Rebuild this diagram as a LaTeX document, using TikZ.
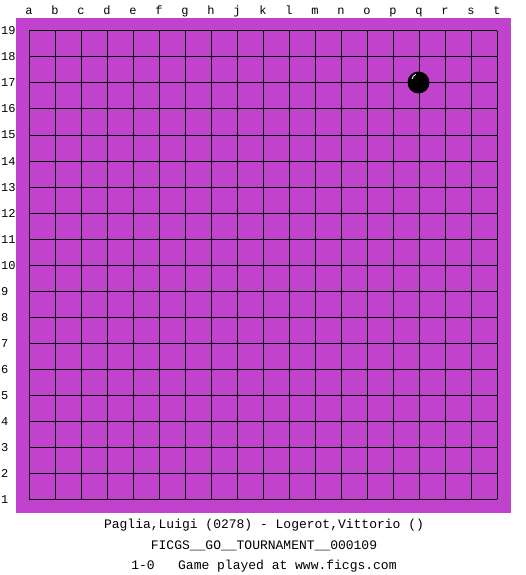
\documentclass[tikz,border=0pt]{standalone}
\usepackage{fontspec}
\setmonofont{Liberation Mono}
\definecolor{board}{RGB}{192,66,205}
\begin{document}
\begin{tikzpicture}[x=1pt,y=-1pt,
  lbl/.style={inner sep=0pt,font=\ttfamily\fontsize{12}{12}\selectfont},
  caption/.style={inner sep=0pt,font=\ttfamily\fontsize{13}{13}\selectfont},
  gridline/.style={line width=1pt,black}]
\useasboundingbox (0,0) rectangle (525,575);
\fill[white] (0,0) rectangle (525,575);
\fill[board] (16,18) rectangle (511,512.5);
\foreach \i in {0,...,18} {
  \draw[gridline] (29+26*\i,31) -- (29+26*\i,499);
  \draw[gridline] (29,31+26*\i) -- (497,31+26*\i);
}
\foreach \l [count=\i from 0] in {a,b,c,d,e,f,g,h,j,k,l,m,n,o,p,q,r,s,t}
  \node[lbl,anchor=base] (col\l) at (29+26*\i,15) {\l};
\foreach \i in {1,...,19}
  \node[lbl,anchor=base west] (row\i) at (1,35+26*19-26*\i) {\i};
\fill[black] (418.5,82.5) circle (11);
\draw[white,line width=0.8pt] (412,79) arc (190:250:6);
\node[caption,anchor=base] (t1) at (264,528) {Paglia,Luigi (0278) - Logerot,Vittorio ()};
\node[caption,anchor=base] (t2) at (264,549) {FICGS\_\_GO\_\_TOURNAMENT\_\_000109};
\node[caption,anchor=base] (t3) at (264,569) {1-0\ \ \ Game played at www.ficgs.com};
\end{tikzpicture}
\end{document}
